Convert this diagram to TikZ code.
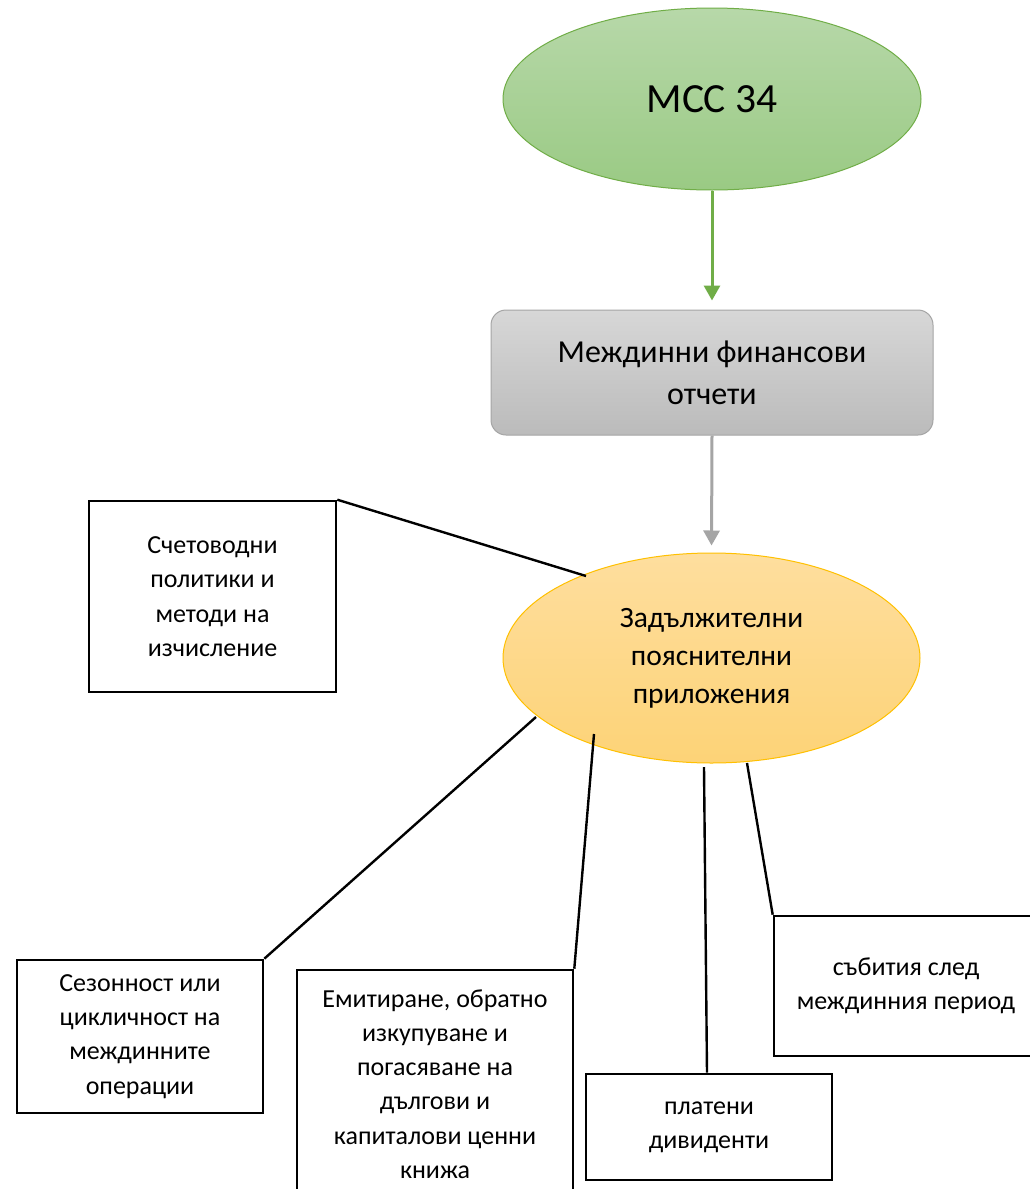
\documentclass[tikz,border=0pt]{standalone}
\usepackage{fontspec}
\setmainfont{Carlito}
\usetikzlibrary{shapes.geometric,arrows.meta,calc}
\definecolor{grnline}{HTML}{70AD47}
\definecolor{grntop}{HTML}{B7D8A9}
\definecolor{grnbot}{HTML}{9ACA84}
\definecolor{gryline}{HTML}{A5A5A5}
\definecolor{grytop}{HTML}{D7D7D7}
\definecolor{grybot}{HTML}{BBBBBB}
\definecolor{orgline}{HTML}{FFC000}
\definecolor{orgtop}{HTML}{FEDE9E}
\definecolor{orgbot}{HTML}{FDD377}
\tikzset{
  txtbox/.style={draw=black, line width=2.6pt, fill=white, align=center, inner sep=0pt,
     font=\fontsize{26}{34.3}\selectfont},
  link/.style={draw=black, line width=2.4pt},
  bigarrow/.style={line width=3pt, -{Triangle[width=16pt,length=15pt]}},
}
\begin{document}
\begin{tikzpicture}[x=1pt,y=-1pt]
\useasboundingbox (0,0) rectangle (1030,1189);
\clip (0,0) rectangle (1030,1189);
\fill[white] (0,0) rectangle (1030,1189);

% top ellipse
\node[ellipse, draw=grnline, line width=1pt, top color=grntop, bottom color=grnbot,
      minimum width=418pt, minimum height=182pt, inner sep=0pt,
      font=\fontsize{41.5}{48}\selectfont] (mcc) at (712,99) {МСС 34};

% gray box
\node[rectangle, rounded corners=15pt, draw=gryline, line width=1pt, top color=grytop, bottom color=grybot,
      minimum width=442pt, minimum height=125pt, inner sep=0pt, align=center,
      font=\fontsize{32}{42}\selectfont] (mfo) at (712,372.5) {Междинни финансови\\отчети};

% orange ellipse
\node[ellipse, draw=orgline, line width=1pt, top color=orgtop, bottom color=orgbot,
      minimum width=417pt, minimum height=210pt, inner sep=0pt, align=center,
      font=\fontsize{29.5}{38}\selectfont] (zad) at (711.5,658) {Задължителни\\пояснителни\\приложения};

% arrows
\draw[bigarrow, draw=grnline, fill=grnline, shorten >=9pt] (mcc.south) -- (mfo.north);
\draw[bigarrow, draw=gryline, fill=gryline, shorten >=7pt] (mfo.south) -- (zad.north);

% boxes
\node[txtbox, minimum width=247pt, minimum height=191pt] (sch) at (212.5,596.5)
  {Счетоводни\\политики и\\методи на\\изчисление};
\node[txtbox, minimum width=246pt, minimum height=153pt] (sez) at (140,1036.5)
  {Сезонност или\\цикличност на\\междинните\\операции};
\node[txtbox, minimum width=276pt, minimum height=228pt] (emi) at (435,1084)
  {Емитиране, обратно\\изкупуване и\\погасяване на\\дългови и\\капиталови ценни\\книжа};
\node[txtbox, minimum width=246pt, minimum height=106pt] (pla) at (709,1127)
  {платени\\дивиденти};
\node[txtbox, minimum width=264pt, minimum height=140pt] (sab) at (906,986)
  {събития след\\междинния период};

% connectors
\draw[link] (sch.north east) -- ($(zad.center)+(-125.5,-82)$);
\draw[link] (sez.north east) -- ($(zad.center)+(-175.5,59)$);
\draw[link] (emi.north east) -- ($(zad.center)+(-117.5,76)$);
\draw[link] ([xshift=-2pt]pla.north) -- ($(zad.center)+(-7.5,109)$);
\draw[link] (sab.north west) -- ($(zad.center)+(35.5,105)$);
\end{tikzpicture}
\end{document}
